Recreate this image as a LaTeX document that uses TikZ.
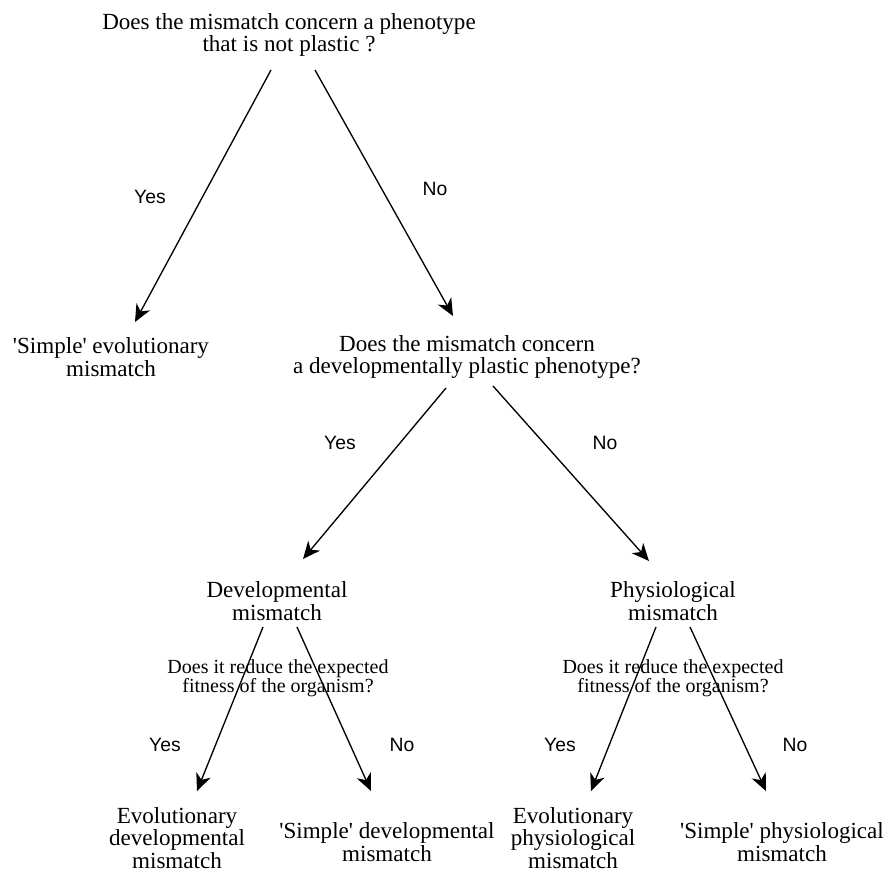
\documentclass[tikz,border=0pt]{standalone}
\usepackage{fontspec}
\setmainfont{Liberation Serif}
\newfontfamily\labfont{Liberation Sans}
\usetikzlibrary{arrows.meta}
\newcommand{\sq}{\textquotesingle}
\begin{document}
\begin{tikzpicture}[x=0.75pt,y=-0.75pt,
  bigq/.style={align=center,inner sep=0pt,font=\fontsize{17.3}{17}\selectfont},
  outc/.style={align=center,inner sep=0pt,font=\fontsize{17.3}{15.3}\selectfont},
  smallq/.style={align=center,inner sep=0pt,font=\fontsize{15}{14.2}\selectfont},
  yn/.style={inner sep=0pt,font=\labfont\fontsize{14.5}{15}\selectfont},
  arr/.style={-{Stealth[length=13pt,width=11.5pt,inset=4pt]},line width=1pt}]
\useasboundingbox (0,0) rectangle (886,872);
% question and outcome texts
\node[bigq] (q1) at (289,35) {Does the mismatch concern a phenotype\\that is not plastic ?};
\node[outc] (s1) at (111,357) {\sq Simple\sq{} evolutionary\\mismatch};
\node[bigq] (q2) at (467,357) {Does the mismatch concern\\a developmentally plastic phenotype?};
\node[outc] (dev) at (277,601) {Developmental\\mismatch};
\node[outc] (phys) at (673,601) {Physiological\\mismatch};
\node[smallq] (qd) at (278,678) {Does it reduce the expected\\fitness of the organism?};
\node[smallq] (qp) at (673,678) {Does it reduce the expected\\fitness of the organism?};
\node[outc] (b1) at (177,838) {Evolutionary\\developmental\\mismatch};
\node[outc] (b2) at (387,842) {\sq Simple\sq{} developmental\\mismatch};
\node[outc] (b3) at (573,838) {Evolutionary\\physiological\\mismatch};
\node[outc] (b4) at (782,842) {\sq Simple\sq{} physiological\\mismatch};
% yes/no labels
\node[yn] (y1) at (150,197) {Yes};
\node[yn] (n1) at (435,189) {No};
\node[yn] (y2) at (340,443) {Yes};
\node[yn] (n2) at (605,443) {No};
\node[yn] (y3) at (165,745) {Yes};
\node[yn] (n3) at (402,745) {No};
\node[yn] (y4) at (560,745) {Yes};
\node[yn] (n4) at (795,745) {No};
% arrow end points
\coordinate (a1s) at (271,70);  \coordinate (a1e) at (135,322);
\coordinate (a2s) at (315,70);  \coordinate (a2e) at (453,316);
\coordinate (a3s) at (446,388); \coordinate (a3e) at (303,559);
\coordinate (a4s) at (493,386); \coordinate (a4e) at (649,561);
\coordinate (a5s) at (263,627); \coordinate (a5e) at (197,791);
\coordinate (a6s) at (297,627); \coordinate (a6e) at (371,791);
\coordinate (a7s) at (656,627); \coordinate (a7e) at (591,791);
\coordinate (a8s) at (690,627); \coordinate (a8e) at (766,791);
\draw[arr] (a1s) -- (a1e);
\draw[arr] (a2s) -- (a2e);
\draw[arr] (a3s) -- (a3e);
\draw[arr] (a4s) -- (a4e);
\draw[arr] (a5s) -- (a5e);
\draw[arr] (a6s) -- (a6e);
\draw[arr] (a7s) -- (a7e);
\draw[arr] (a8s) -- (a8e);
\end{tikzpicture}
\end{document}
